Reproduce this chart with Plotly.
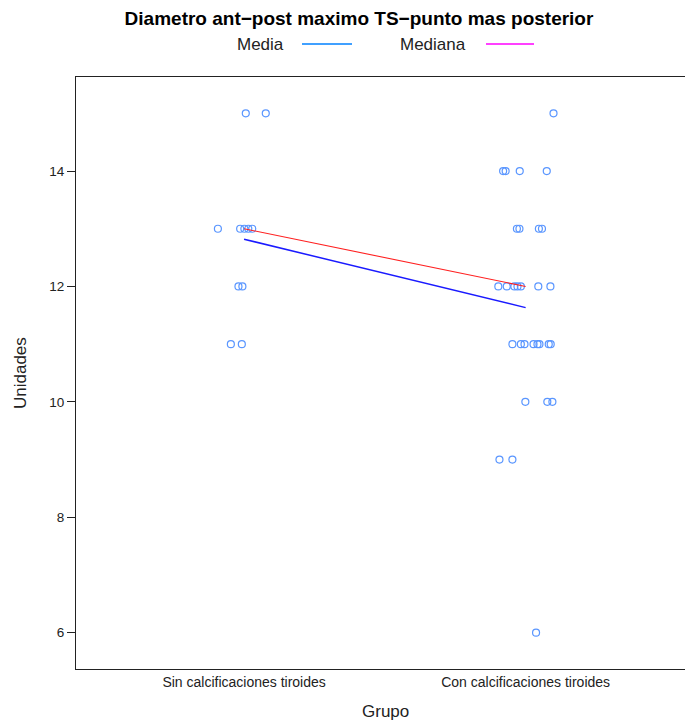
import plotly.graph_objects as go

# Group labels and the values observed in each group (with the horizontal jitter used to draw them)
grupos = ["Sin calcificaciones tiroides", "Con calcificaciones tiroides"]

sin_valores = [15, 15, 13, 13, 13, 13, 13, 12, 12, 11, 11]
sin_jitter = [0.006, 0.077, -0.093, -0.014, 0.001, 0.015, 0.029, -0.020, -0.006, -0.047, -0.008]

con_valores = [15,
               14, 14, 14, 14,
               13, 13, 13, 13,
               12, 12, 12, 12, 12, 12, 12,
               11, 11, 11, 11, 11, 11, 11, 11,
               10, 10, 10,
               9, 9,
               6]
con_jitter = [0.099,
              -0.080, -0.071, -0.021, 0.075,
              -0.031, -0.022, 0.047, 0.058,
              -0.097, -0.067, -0.040, -0.029, -0.017, 0.045, 0.088,
              -0.047, -0.017, -0.004, 0.028, 0.042, 0.049, 0.082, 0.089,
              -0.001, 0.077, 0.095,
              -0.093, -0.047,
              0.037]

y_ticks = [6, 8, 10, 12, 14]


def media(v):
    return sum(v) / len(v)


def mediana(v):
    s = sorted(v)
    n = len(s)
    return s[n // 2] if n % 2 else (s[n // 2 - 1] + s[n // 2]) / 2


FONT = "Liberation Sans, Arial, Helvetica, sans-serif"
W, H = 685, 720
L, T, B = 76, 77, 51
plot_w = W - L
plot_h = H - T - B

fig = go.Figure()

# Jittered points for each group
for i, (vals, jit) in enumerate([(sin_valores, sin_jitter), (con_valores, con_jitter)]):
    fig.add_trace(go.Scatter(
        x=[i + 1 + j for j in jit], y=vals, mode="markers",
        marker=dict(symbol="circle-open", size=7, color="#5a96ff",
                    line=dict(width=1.2, color="#5a96ff")),
        showlegend=False, hoverinfo="y"))

# Mean and median lines joining the groups
fig.add_trace(go.Scatter(x=[1, 2], y=[media(sin_valores), media(con_valores)],
                         mode="lines", line=dict(color="#1a1aff", width=1.5),
                         showlegend=False))
fig.add_trace(go.Scatter(x=[1, 2], y=[mediana(sin_valores), mediana(con_valores)],
                         mode="lines", line=dict(color="#ff2020", width=1.1),
                         showlegend=False))


def px_x(p):
    return (p - L) / plot_w


def px_y(p):
    return 1 + (T - p) / plot_h


def label(text, x, y, angle=0):
    return dict(text=text, x=x, y=y, xref="paper", yref="paper",
                xanchor="center", yanchor="middle", showarrow=False,
                textangle=angle, font=dict(family=FONT, size=17, color="#222"))


annotations = [
    label("Media", px_x(260), px_y(44)),
    label("Mediana", px_x(433), px_y(44)),
    label("Grupo", px_x(385), px_y(711)),
    label("Unidades", px_x(20), 0.5, -90),
]

shapes = [
    dict(type="line", xref="paper", yref="paper", x0=px_x(302), x1=px_x(352),
         y0=px_y(44), y1=px_y(44), line=dict(color="#0080ff", width=1.5)),
    dict(type="line", xref="paper", yref="paper", x0=px_x(486), x1=px_x(534),
         y0=px_y(44), y1=px_y(44), line=dict(color="#ff00ff", width=1.5)),
]

fig.update_layout(
    width=W, height=H,
    margin=dict(l=L, r=0, t=T, b=B),
    paper_bgcolor="white", plot_bgcolor="white",
    title=dict(text="<b>Diametro ant\u2212post maximo TS\u2212punto mas posterior</b>",
               x=359 / W, xanchor="center", y=1 - 18 / H, yanchor="middle",
               font=dict(family=FONT, size=19, color="black")),
    annotations=annotations, shapes=shapes,
    xaxis=dict(range=[0.403, 2.566], tickvals=[1, 2], ticktext=grupos,
               ticks="", showgrid=False, zeroline=False,
               showline=True, linecolor="#222", linewidth=1.2, mirror=True,
               tickfont=dict(family=FONT, size=14, color="#222")),
    yaxis=dict(range=[5.37, 15.63], tickvals=y_ticks, ticks="outside", ticklen=8,
               tickcolor="#222", tickwidth=1.2,
               showgrid=False, zeroline=False, showline=True, linecolor="#222",
               linewidth=1.2, tickfont=dict(family=FONT, size=13.5, color="#222")),
)

fig.write_html("out.html")
